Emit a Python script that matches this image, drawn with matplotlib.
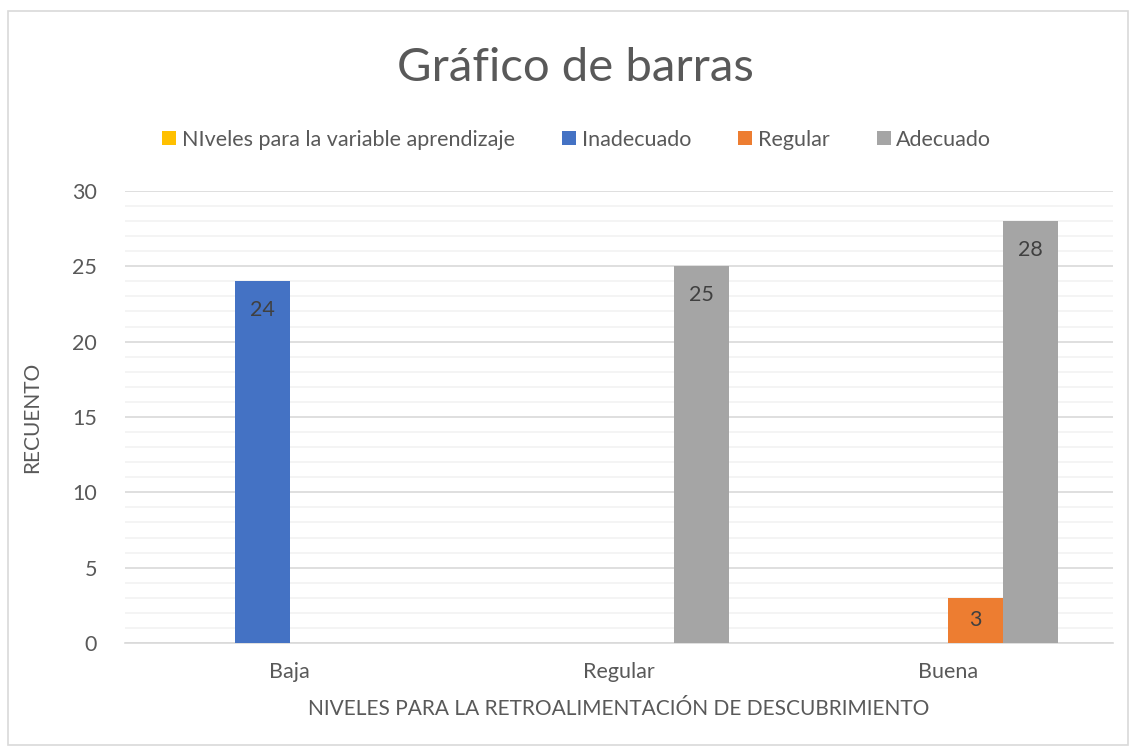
import matplotlib.pyplot as plt
import numpy as np
from matplotlib.patches import Patch, Rectangle

# Data
categories = ['Baja', 'Regular', 'Buena']
series_names = ['NIveles para la variable aprendizaje', 'Inadecuado', 'Regular', 'Adecuado']
series_colors = ['#FFC000', '#4472C4', '#ED7D31', '#A5A5A5']
nivel_aprendizaje = [0, 0, 0]
inadecuado = [24, 0, 0]
regular = [0, 0, 3]
adecuado = [0, 25, 28]
all_series = [nivel_aprendizaje, inadecuado, regular, adecuado]

plt.rcParams['font.family'] = ['Lato', 'DejaVu Sans']
txt = '#595959'

fig = plt.figure(figsize=(11.31, 7.5), dpi=100)
ax = fig.add_axes([0.1105, 0.1427, 0.8736, 0.6027])

# chart border
fig.patches.append(Rectangle((8 / 1131, 5 / 750), 1120 / 1131, 734 / 750, transform=fig.transFigure,
                             fill=False, edgecolor='#D9D9D9', linewidth=1.2))

x = np.arange(len(categories))
bar_width = 0.167
offsets = (np.arange(4) - 1.5) * bar_width
for vals, off, col in zip(all_series, offsets, series_colors):
    bars = ax.bar(x + off, vals, width=bar_width, color=col, zorder=3)
    for b, v in zip(bars, vals):
        if v > 0:
            # inside end, centred when the bar is short
            ax.text(b.get_x() + b.get_width() / 2, max(v - 1.9, v / 2), str(v), ha='center', va='center',
                    fontsize=15.5, color='#404040', zorder=4)

ax.set_xlim(-0.5, 2.5)
ax.set_ylim(0, 30)
ax.set_yticks(np.arange(0, 31, 5))
ax.set_yticks(np.arange(0, 31, 1), minor=True)
ax.grid(axis='y', which='major', color='#D9D9D9', linewidth=1.2, zorder=0)
ax.grid(axis='y', which='minor', color='#F2F2F2', linewidth=1.2, zorder=0)
ax.set_xticks(x)
ax.set_xticklabels(categories)
ax.tick_params(axis='both', which='both', length=0, labelsize=15.5, labelcolor=txt)
ax.tick_params(axis='y', pad=20)
ax.tick_params(axis='x', pad=14)
for s in ['top', 'right', 'left']:
    ax.spines[s].set_visible(False)
ax.spines['bottom'].set_color('#D9D9D9')
ax.spines['bottom'].set_linewidth(1.2)

ax.set_xlabel('NIVELES PARA LA RETROALIMENTACIÓN DE DESCUBRIMIENTO', fontsize=15, color=txt, labelpad=12)
ax.set_ylabel('RECUENTO', fontsize=15, color=txt, labelpad=22)

fig.text(0.509, 0.909, 'Gráfico de barras', ha='center', va='center', fontsize=34, color=txt)

handles = [Patch(facecolor=c, edgecolor='none') for c in series_colors]
fig.legend(handles, series_names, loc='center', bbox_to_anchor=(0.51, 0.814), ncol=4, frameon=False,
           fontsize=15.5, handlelength=0.65, handleheight=0.65, handletextpad=0.25, columnspacing=2.2,
           labelcolor=txt)

plt.savefig('out.png', dpi=100)
